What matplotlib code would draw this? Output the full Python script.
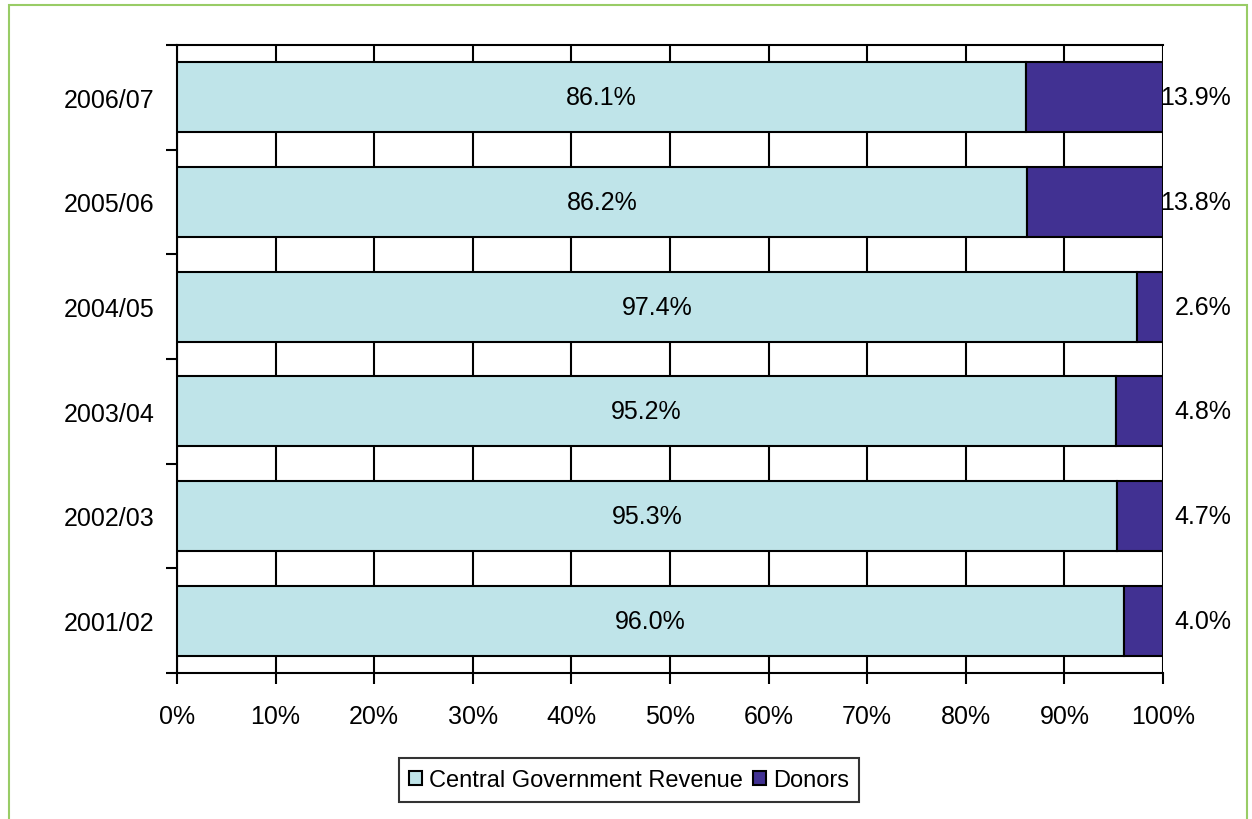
import numpy as np
import matplotlib
matplotlib.use("Agg")
import matplotlib.pyplot as plt
from matplotlib.patches import Rectangle

plt.rcParams['font.family'] = ['Liberation Sans', 'DejaVu Sans']

years = ["2001/02", "2002/03", "2003/04", "2004/05", "2005/06", "2006/07"]
central = [96.0, 95.3, 95.2, 97.4, 86.2, 86.1]
donors = [4.0, 4.7, 4.8, 2.6, 13.8, 13.9]

c_blue = "#BFE4E9"
c_purple = "#413192"

W, H = 1252, 820
fig = plt.figure(figsize=(W / 100, H / 100), dpi=100)
# green outer frame (bottom edge falls outside the picture)
fig.patches.append(Rectangle((9 / W, -0.1), (1247 - 9) / W, 1.1 - 6 / H,
                             transform=fig.transFigure, fill=False,
                             edgecolor="#99CC66", linewidth=1.5, zorder=0))
ax = fig.add_axes([177 / W, 1 - 674 / H, (1163 - 177) / W, (674 - 46) / H])

y = np.arange(len(years))
b1 = ax.barh(y, central, height=0.67, color=c_blue, edgecolor="black", linewidth=1.5,
             label="Central Government Revenue", zorder=3)
b2 = ax.barh(y, donors, left=central, height=0.67, color=c_purple, edgecolor="black",
             linewidth=1.5, label="Donors", zorder=3)

for i in range(len(years)):
    ax.text(central[i] / 2, y[i], "%.1f%%" % central[i], ha="center", va="center",
            fontsize=18, zorder=4)
    ax.annotate("%.1f%%" % donors[i], xy=(100, y[i]), xytext=(49, 0),
                textcoords="offset points", ha="right", va="center", fontsize=18,
                zorder=4)

ax.set_xlim(0, 100)
ax.set_ylim(-0.5, len(years) - 0.5)
ax.set_xticks(np.arange(0, 101, 10))
ax.set_xticklabels(["%d%%" % v for v in range(0, 101, 10)], fontsize=18)
ax.set_yticks(y)
ax.set_yticklabels(years, fontsize=18)
ax.set_yticks(np.arange(-0.5, len(years)), minor=True)
ax.tick_params(axis="y", which="major", length=0, pad=16)
ax.tick_params(axis="y", which="minor", length=8, width=1.5, direction="out")
ax.tick_params(axis="x", length=8, width=1.5, direction="out", pad=14)
ax.grid(axis="x", color="black", linewidth=1.5, zorder=1)
ax.set_axisbelow(True)
for s in ax.spines.values():
    s.set_linewidth(1.5)
ax.spines["right"].set_visible(False)

leg = fig.legend(handles=[b1, b2], loc="center", bbox_to_anchor=(629 / W, 1 - 781 / H),
                 ncol=2, frameon=True, fancybox=False, edgecolor="black", fontsize=17,
                 handlelength=0.55, handleheight=0.55, handletextpad=0.3,
                 columnspacing=0.4, borderpad=0.45, borderaxespad=0)
leg.get_frame().set_linewidth(1.5)

fig.savefig("out.png", dpi=100)
